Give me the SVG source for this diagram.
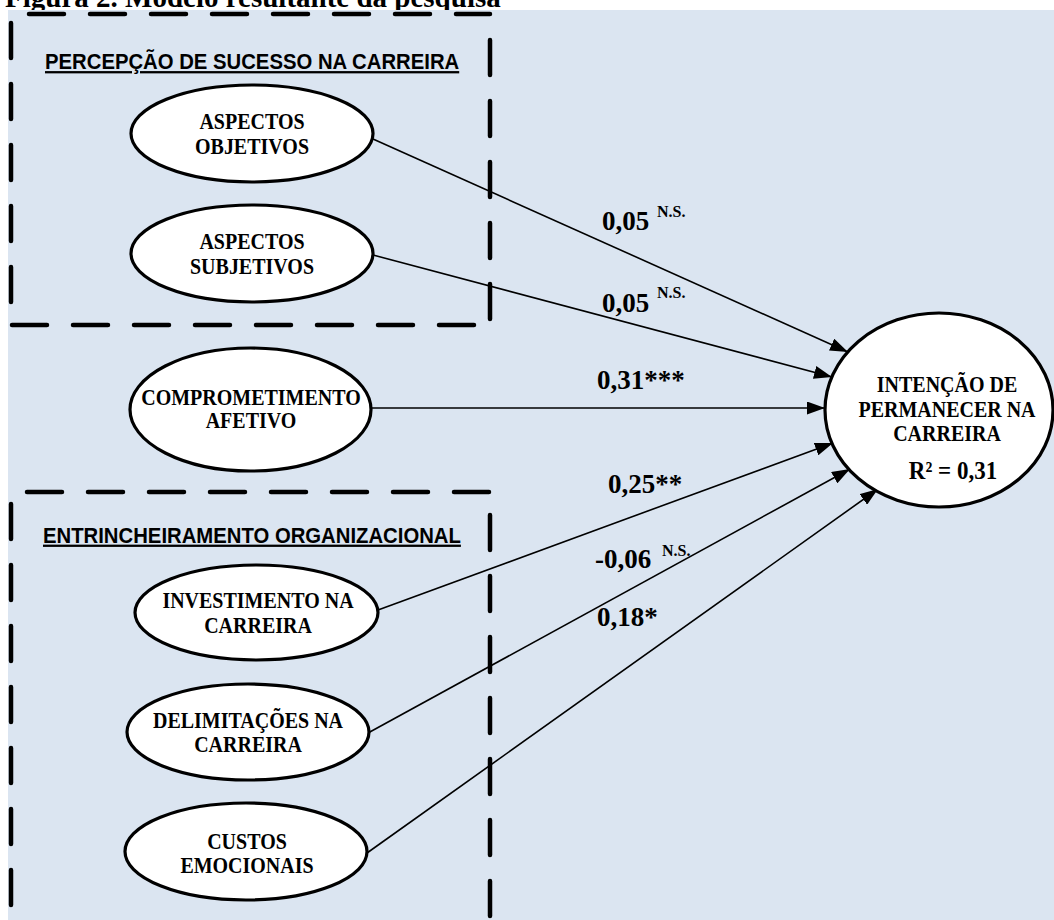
<svg xmlns="http://www.w3.org/2000/svg" width="1054" height="920" viewBox="0 0 1054 920">
<defs>
<style>
.bg{fill:#dbe5f1}
.dash{fill:none;stroke:#000;stroke-width:4.5;stroke-dasharray:35 26;stroke-linecap:round}
.node{fill:#fff;stroke:#000;stroke-width:3.2}
.nt{font-family:"Liberation Serif","Times New Roman",serif;font-weight:bold;font-size:20px;fill:#000;text-anchor:middle}
.sec{font-family:"Liberation Sans",Arial,sans-serif;font-weight:bold;font-size:20.3px;fill:#000;text-decoration:underline}
.lbl{font-family:"Liberation Serif","Times New Roman",serif;font-weight:bold;font-size:27px;fill:#000}
.sup{font-size:16px}
.edge{fill:none;stroke:#000;stroke-width:1.6}
.title{font-family:"Liberation Serif","Times New Roman",serif;font-weight:bold;font-size:29px;fill:#000}
</style>
<marker id="arr" markerUnits="userSpaceOnUse" markerWidth="18" markerHeight="13" refX="18" refY="6.5" orient="auto">
<path d="M0,0 L18,6.5 L0,13 Z" fill="#000"/>
</marker>
</defs>
<rect width="1054" height="920" fill="#fff"/>
<text class="title" x="5" y="7">Figura 2. Modelo resultante da pesquisa</text>
<rect class="bg" x="8" y="10" width="1046" height="910"/>
<g id="group-percepcao">
<path class="dash" d="M29,14 H490"/>
<path class="dash" d="M11,23 V305"/>
<path class="dash" d="M490,40 V320"/>
<path class="dash" d="M12,325 H475"/>
<text class="sec" transform="scale(1,1.12)" x="45" y="61.6">PERCEPÇÃO DE SUCESSO NA CARREIRA</text>
</g>
<g id="group-entrincheiramento">
<path class="dash" d="M27,492 H490"/>
<path class="dash" d="M11,504 V920"/>
<path class="dash" d="M490,515 V920"/>
<text class="sec" transform="scale(1,1.12)" x="43" y="484.4">ENTRINCHEIRAMENTO ORGANIZACIONAL</text>
</g>
<g id="connectors">
<path class="edge" d="M373,139 L848,352" marker-end="url(#arr)"/>
<path class="edge" d="M373,255 L832,377" marker-end="url(#arr)"/>
<path class="edge" d="M371,408 L825,408" marker-end="url(#arr)"/>
<path class="edge" d="M378,610 L833,443" marker-end="url(#arr)"/>
<path class="edge" d="M368,733 L850,469" marker-end="url(#arr)"/>
<path class="edge" d="M367,853 L878,489" marker-end="url(#arr)"/>
<text class="lbl" x="602" y="230">0,05 <tspan class="sup" x="657" y="217">N.S.</tspan></text>
<text class="lbl" x="602" y="312">0,05 <tspan class="sup" x="657" y="298">N.S.</tspan></text>
<text class="lbl" x="597" y="389">0,31***</text>
<text class="lbl" x="608" y="493">0,25**</text>
<text class="lbl" x="595" y="568">-0,06 <tspan class="sup" x="662" y="556">N.S.</tspan></text>
<text class="lbl" x="597" y="626">0,18*</text>
</g>
<g id="node-aspectos-objetivos">
<ellipse class="node" cx="252" cy="133.5" rx="121" ry="48.5"/>
<text class="nt" transform="translate(252,133.5) scale(1,1.12)"><tspan x="0" y="-3.6">ASPECTOS</tspan><tspan x="0" y="17.9">OBJETIVOS</tspan></text>
</g>
<g id="node-aspectos-subjetivos">
<ellipse class="node" cx="252" cy="253.5" rx="121" ry="48.5"/>
<text class="nt" transform="translate(252,253.5) scale(1,1.12)"><tspan x="0" y="-3.6">ASPECTOS</tspan><tspan x="0" y="17.9">SUBJETIVOS</tspan></text>
</g>
<g id="node-comprometimento">
<ellipse class="node" cx="250.5" cy="409.5" rx="120.5" ry="61.5"/>
<text class="nt" transform="translate(251,409.5) scale(1,1.12)"><tspan x="0" y="-4">COMPROMETIMENTO</tspan><tspan x="0" y="16.5">AFETIVO</tspan></text>
</g>
<g id="node-investimento">
<ellipse class="node" cx="256.5" cy="612.5" rx="121.5" ry="47.5"/>
<text class="nt" transform="translate(258,612.5) scale(1,1.12)"><tspan x="0" y="-4">INVESTIMENTO NA</tspan><tspan x="0" y="18.3">CARREIRA</tspan></text>
</g>
<g id="node-delimitacoes">
<ellipse class="node" cx="248" cy="732" rx="121" ry="48"/>
<text class="nt" transform="translate(248,732) scale(1,1.12)"><tspan x="0" y="-3.6">DELIMITAÇÕES NA</tspan><tspan x="0" y="17.9">CARREIRA</tspan></text>
</g>
<g id="node-custos">
<ellipse class="node" cx="246" cy="851.5" rx="121" ry="48.5"/>
<text class="nt" transform="translate(247,851.5) scale(1,1.12)"><tspan x="0" y="-2.2">CUSTOS</tspan><tspan x="0" y="19.2">EMOCIONAIS</tspan></text>
</g>
<g id="node-intencao">
<ellipse class="node" cx="939" cy="410" rx="114" ry="97"/>
<text class="nt" transform="translate(947,410) scale(1,1.12)"><tspan x="0" y="-16.1">INTENÇÃO DE</tspan><tspan x="0" y="6.25">PERMANECER NA</tspan><tspan x="0" y="27.7">CARREIRA</tspan><tspan x="6" y="61.6" style="font-size:23px">R² = 0,31</tspan></text>
</g>
</svg>
